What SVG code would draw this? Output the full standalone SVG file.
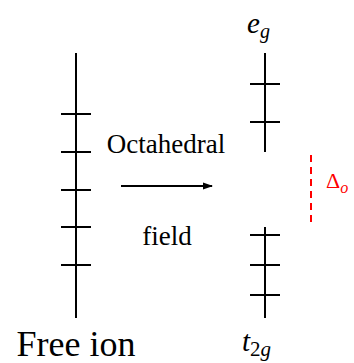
<svg xmlns="http://www.w3.org/2000/svg" width="354" height="363" viewBox="0 0 354 363">
<defs>
<style>
.ln{stroke:#000;stroke-width:2;fill:none}
.tx{font-family:"Times New Roman","Liberation Serif","DejaVu Serif",serif;fill:#000}
.it{font-style:italic}
.red{stroke:#ff0000;stroke-width:2;stroke-dasharray:7,5;fill:none}
</style>
<marker id="ah" viewBox="0 0 10 10" refX="9" refY="5" markerWidth="5" markerHeight="5" orient="auto" markerUnits="strokeWidth">
<path d="M0,1.5 L10,5 L0,8.5 Z" fill="#000"/>
</marker>
</defs>
<rect width="354" height="363" fill="#fff"/>
<g id="free-ion">
<path class="ln" d="M76,53 V318 M61,114 H91 M61,152 H91 M61,190 H91 M61,227 H91 M61,265 H91"/>
<text class="tx" x="76" y="356" font-size="36" text-anchor="middle">Free ion</text>
</g>
<g id="eg">
<path class="ln" d="M265,53 V152 M250,84 H280 M250,122 H280"/>
<text class="tx it" x="247" y="33" font-size="29">e<tspan font-size="20" dy="5">g</tspan></text>
</g>
<g id="t2g">
<path class="ln" d="M265,227 V318 M250,235 H280 M250,265 H280 M250,295 H280"/>
<text class="tx" x="242" y="351" font-size="29"><tspan class="it">t</tspan><tspan font-size="21" dy="5">2</tspan><tspan class="it" font-size="21">g</tspan></text>
</g>
<g id="delta">
<line class="red" x1="311" y1="155" x2="311" y2="227"/>
<text class="tx" x="326" y="188" font-size="22" style="fill:#ff0000">Δ<tspan class="it" font-size="16" dy="5">o</tspan></text>
</g>
<g id="connectors">
<line class="ln" x1="121" y1="186" x2="212" y2="186" marker-end="url(#ah)"/>
</g>
<g id="labels">
<text class="tx" x="166" y="153" font-size="27" text-anchor="middle">Octahedral</text>
<text class="tx" x="167" y="245" font-size="27" text-anchor="middle">field</text>
</g>
</svg>
